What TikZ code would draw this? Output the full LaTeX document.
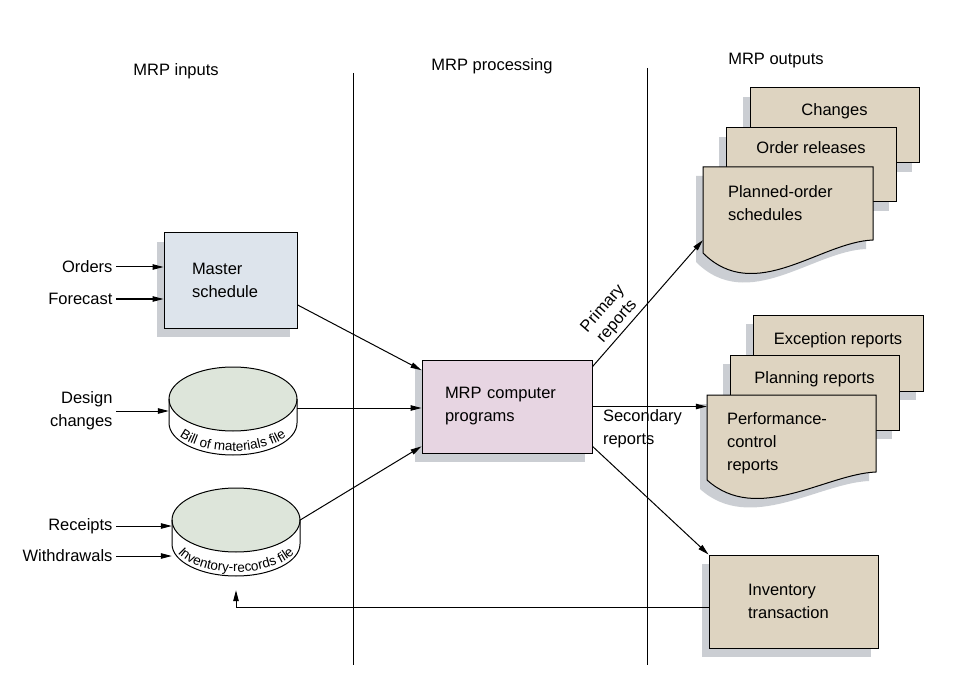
\documentclass[tikz,border=0pt]{standalone}
\usepackage{fontspec}
\setmainfont{Liberation Sans}
\usepackage{tikz}
\usetikzlibrary{positioning,arrows.meta,calc,shadows}
\usetikzlibrary{decorations.text}

\definecolor{schedblue}{RGB}{221,228,236}
\definecolor{mrppink}{RGB}{231,213,226}
\definecolor{pagetan}{RGB}{222,212,193}
\definecolor{diskgreen}{RGB}{221,229,218}
\definecolor{shadowgray}{RGB}{203,206,211}

\newcommand{\drumfont}{\fontsize{13.5}{15}\selectfont}

\tikzset{
  flow/.style={draw=black, line width=1pt, -{Triangle[length=11pt,width=5.5pt]}},
  divider/.style={draw=black, line width=0.9pt},
  dropgray/.style={drop shadow={shadow xshift=-7pt, shadow yshift=-9pt, fill=shadowgray, opacity=1}},
  box/.style={draw=black, line width=1pt, align=left, inner ysep=0pt, dropgray},
  page/.style={draw=black, line width=1pt, fill=pagetan, inner ysep=0pt, dropgray},
  doc/.style={align=left, inner ysep=0pt},
  disk/.style={draw=black, line width=1pt},
  inlabel/.style={anchor=east, align=right}
}

% disk file: position, name, label
\newcommand{\drum}[3]{%
  \node[minimum width=128pt, minimum height=64pt, inner sep=0pt] (#2) at (#1) {};
  \path[fill=white] ($(#2.center)+(-64,0)$) -- ++(0,-24)
    arc[start angle=180, end angle=360, x radius=64pt, y radius=32pt] -- ++(0,24) -- cycle;
  \draw[disk, fill=diskgreen] (#2.center) ellipse [x radius=64pt, y radius=32pt];
  \draw[disk] ($(#2.center)+(-64,0)$) -- ++(0,-24)
    arc[start angle=180, end angle=360, x radius=64pt, y radius=32pt] -- ++(0,24);
  \path[decorate, decoration={text along path, text align=center, text={|\drumfont|#3}}]
    ($(#2.center)+({64*cos(200)},{-20+32*sin(200)})$)
    arc[start angle=200, end angle=340, x radius=64pt, y radius=32pt];
}

\begin{document}
\begin{tikzpicture}[x=1pt, y=1pt, font=\fontsize{16.5}{23}\selectfont]
  \useasboundingbox (0,0) rectangle (967,-679);

  \node (hin) at (176,-71) {MRP inputs};
  \node (hproc) at (492,-66) {MRP processing};
  \node (hout) at (776,-61) {MRP outputs};
  \draw[divider] (353,-73) -- (353,-665);
  \draw[divider] (647,-68) -- (647,-665);

  % inputs
  \node[box, fill=schedblue, minimum width=133pt, minimum height=95pt, text width=77pt, inner xsep=28pt] (sched) at (230.5,-280.5) {Master\\schedule};
  \drum{233,-399}{bill}{Bill of materials file}
  \drum{236,-520}{inv}{Inventory-records file}

  \node[inlabel] (ord) at (116,-267) {Orders};
  \node[inlabel] (fc) at (116,-299) {Forecast};
  \node[inlabel] (des) at (116,-411) {Design\\changes};
  \node[inlabel] (rec) at (116,-526) {Receipts};
  \node[inlabel] (wd) at (116,-556) {Withdrawals};

  \draw[flow] (ord) -- (ord -| sched.west);
  \draw[flow] (fc) -- (fc -| sched.west);
  \draw[flow] (des) -- (des -| bill.west);
  \draw[flow] (rec) -- (rec -| inv.west);
  \draw[flow] (wd) -- (wd -| inv.west);

  % processing
  \node[box, fill=mrppink, minimum width=170pt, minimum height=93pt, text width=124pt, inner xsep=23pt] (mrp) at (507,-406.5) {MRP computer\\programs};
  \draw[flow] (sched.-20) -- (mrp.157);
  \draw[flow] ([yshift=-9pt]bill.east) -- ([yshift=-9pt]bill.east -| mrp.west);
  \draw[flow] (inv.east) -- (mrp.205);

  % outputs
  \node[page, minimum width=169pt, text height=28pt, text depth=47pt] (chg) at (834.5,-125.5) {Changes};
  \node[page, minimum width=170pt, text height=26pt, text depth=48pt] (rel) at (811,-165) {Order releases};
  \path[page] (703,-167) -- (873,-167) -- (873,-240) .. controls +(-53,-2) and +(52,-52) .. (703,-253) -- cycle;
  \node[doc, text width=120pt, inner xsep=25pt, text height=31pt, text depth=42pt] (plan) at (788,-203.5) {Planned-order\\schedules};

  \node[page, minimum width=170pt, text height=29pt, text depth=47pt] (exc) at (838,-353) {Exception reports};
  \node[page, minimum width=169pt, text height=28pt, text depth=47pt] (pln) at (814.5,-392.5) {Planning reports};
  \path[page] (707,-395) -- (876,-395) -- (876,-472) .. controls +(-50,-2) and +(50,-45) .. (707,-480) -- cycle;
  \node[doc, text width=129pt, inner xsep=20pt, text height=29pt, text depth=48pt] (perf) at (791.5,-433.5) {Performance-\\control\\reports};

  \node[box, fill=pagetan, minimum width=169pt, minimum height=93pt, text width=91pt, inner xsep=39pt] (invt) at (793.5,-601.5) {Inventory\\transaction};

  \draw[flow] (mrp.25) -- node[sloped, above, pos=0.3, align=center, inner sep=3pt, font=\fontsize{16.5}{19}\selectfont] (prim) {Primary\\reports} (plan.south west);
  \draw[flow] (mrp.east) -- node[pos=0, anchor=north west, align=left, inner xsep=10pt, inner ysep=3pt] (sec) {Secondary\\reports} (mrp.east -| perf.west);
  \draw[flow] (mrp.-25) -- (invt.north west);
  \coordinate (invtip) at ($(inv.south)+(0,-38)$);
  \draw[flow] ([yshift=-6pt]invt.west) -| (invtip);
\end{tikzpicture}
\end{document}
